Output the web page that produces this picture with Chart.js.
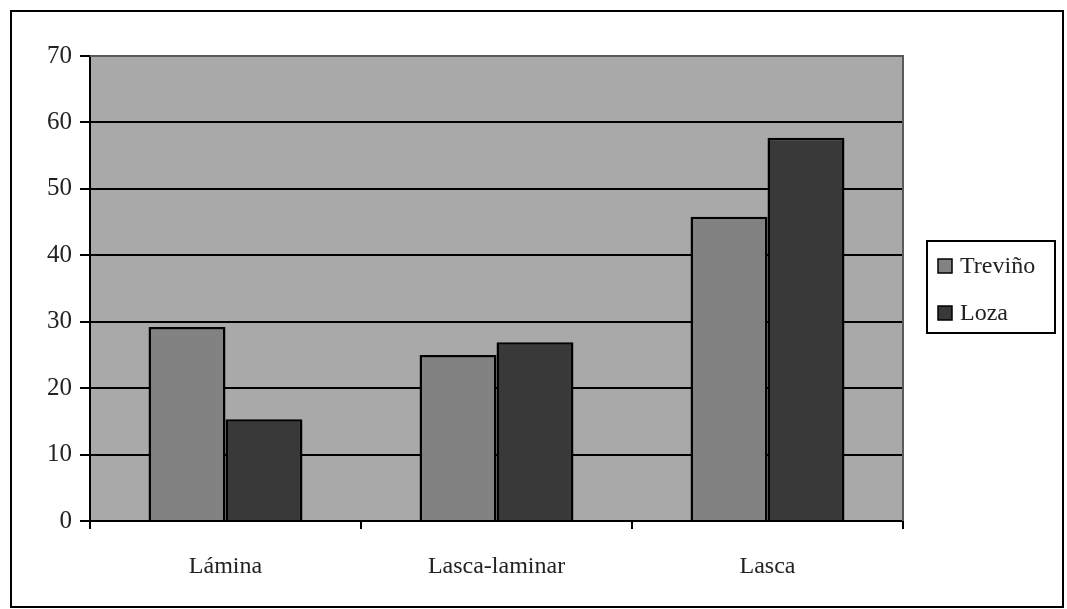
<!DOCTYPE html>
<html>
<head>
<meta charset="utf-8">
<script src="https://cdn.jsdelivr.net/npm/chart.js@4/dist/chart.umd.min.js"></script>
<style>
  html, body { margin: 0; padding: 0; background: #ffffff; }
  #wrap { width: 1067px; height: 609px; }
</style>
</head>
<body>
<div id="wrap"><canvas id="c" width="1067" height="609"></canvas></div>
<script>
// Categories and series
const categories = ['Lámina', 'Lasca-laminar', 'Lasca'];
const trevino = [29.2, 25.0, 45.8];
const loza = [15.3, 26.9, 57.7];
const seriesNames = ['Treviño', 'Loza'];
const seriesColors = ['#828282', '#393939'];
const yTicks = [0, 10, 20, 30, 40, 50, 60, 70];

const FONT = '"Liberation Serif", "Times New Roman", serif';
const TEXT = '#222222';

// Grey plot background, frame on top/right, outer border, and boxed legend
const decor = {
  id: 'decor',
  beforeDraw(chart) {
    const { ctx, chartArea: a } = chart;
    ctx.save();
    ctx.fillStyle = '#a9a9a9';
    ctx.fillRect(a.left, a.top, a.right - a.left, a.bottom - a.top);
    ctx.restore();
  },
  afterDraw(chart) {
    const { ctx, chartArea: a } = chart;
    ctx.save();
    // frame top and right of the plot
    ctx.strokeStyle = '#5a5a5a';
    ctx.lineWidth = 2;
    ctx.beginPath();
    ctx.moveTo(a.left, a.top);
    ctx.lineTo(a.right, a.top);
    ctx.lineTo(a.right, a.bottom);
    ctx.stroke();
    // outer border
    ctx.strokeStyle = '#000000';
    ctx.lineWidth = 2;
    ctx.strokeRect(11, 11, 1052, 596);
    // legend box
    ctx.strokeRect(927, 241, 128, 92);
    ctx.font = '24px ' + FONT;
    ctx.textBaseline = 'middle';
    ctx.textAlign = 'left';
    chart.data.datasets.forEach((ds, i) => {
      const cy = 266 + i * 47;
      ctx.fillStyle = ds.backgroundColor;
      ctx.fillRect(938, cy - 7, 14, 14);
      ctx.lineWidth = 1.5;
      ctx.strokeStyle = '#000000';
      ctx.strokeRect(938, cy - 7, 14, 14);
      ctx.fillStyle = TEXT;
      ctx.fillText(ds.label, 960, cy + 1);
    });
    ctx.restore();
  }
};

new Chart(document.getElementById('c'), {
  type: 'bar',
  data: {
    labels: categories,
    datasets: [
      { label: seriesNames[0], data: trevino, backgroundColor: seriesColors[0], borderColor: '#000000', borderWidth: 2.5 },
      { label: seriesNames[1], data: loza, backgroundColor: seriesColors[1], borderColor: '#000000', borderWidth: 2.5 }
    ]
  },
  options: {
    responsive: false,
    animation: false,
    devicePixelRatio: 1,
    layout: { padding: { top: 56, right: 164, left: 0, bottom: 0 } },
    datasets: { bar: { categoryPercentage: 0.568, barPercentage: 1.0 } },
    plugins: {
      legend: { display: false },
      tooltip: { enabled: false },
      title: { display: false }
    },
    scales: {
      x: {
        offset: true,
        grid: {
          offset: true,
          drawOnChartArea: false,
          drawTicks: true,
          tickLength: 8,
          color: '#000000',
          lineWidth: 2
        },
        border: { display: true, color: '#000000', width: 2 },
        ticks: {
          font: { family: FONT, size: 24 },
          color: TEXT,
          padding: 23,
          maxRotation: 0
        },
        afterFit(s) { s.height = 88; }
      },
      y: {
        min: 0,
        max: 70,
        afterBuildTicks(s) { s.ticks = yTicks.map(v => ({ value: v })); },
        grid: {
          color: (c) => (c.tick && c.tick.value === 70 ? '#5a5a5a' : '#000000'),
          tickColor: '#000000',
          lineWidth: 2,
          tickLength: 10
        },
        border: { display: true, color: '#000000', width: 2 },
        ticks: {
          font: { family: FONT, size: 25 },
          color: TEXT,
          padding: 8
        },
        afterFit(s) { s.width = 90; }
      }
    }
  },
  plugins: [decor]
});
</script>
</body>
</html>
